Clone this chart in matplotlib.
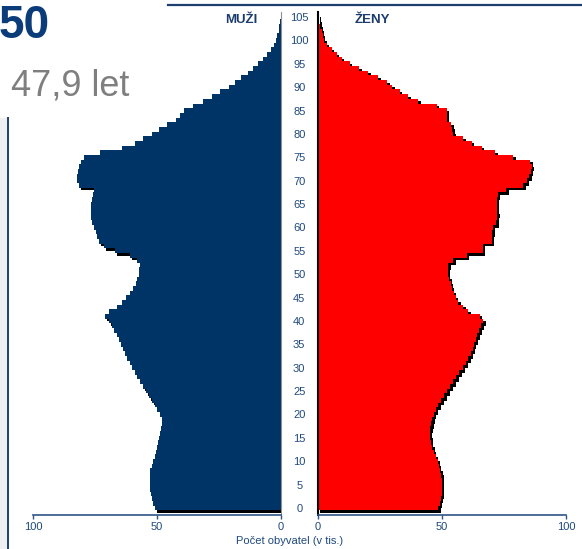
import matplotlib
matplotlib.use("Agg")
import matplotlib.pyplot as plt
import matplotlib.transforms as mtransforms
from matplotlib.patches import Rectangle

plt.rcParams['font.family'] = ['Liberation Sans', 'DejaVu Sans']

ages = list(range(0, 106))
men = [51.0, 51.6, 52.0, 52.4, 52.7, 52.9, 53.0, 53.0, 52.7, 52.2,
       51.5, 51.0, 50.5, 50.0, 49.6, 49.1, 48.7, 48.2, 47.8, 47.9,
       48.7, 49.8, 51.0, 52.2, 53.4, 54.6, 55.8, 56.8, 58.0, 59.0,
       60.0, 61.0, 61.9, 62.8, 63.7, 64.6, 65.4, 66.3, 67.2, 68.2,
       69.5, 71.0, 69.5, 66.0, 64.0, 62.5, 61.0, 59.6, 58.6, 57.9,
       57.4, 57.2, 57.0, 58.0, 61.0, 67.0, 71.5, 73.5, 74.0, 74.6,
       75.3, 76.1, 76.5, 76.8, 76.8, 76.6, 76.2, 75.8, 75.5, 81.5,
       82.3, 82.3, 82.0, 81.5, 80.7, 79.5, 72.8, 64.0, 58.7, 55.5,
       52.0, 49.0, 46.0, 42.5, 40.6, 39.3, 35.5, 31.5, 28.0, 24.5,
       21.0, 18.5, 16.0, 13.5, 11.2, 9.2, 7.2, 5.5, 4.2, 3.0,
       2.2, 1.5, 1.0, 0.7, 0.4, 0.2]
women = [48.5, 49.0, 49.5, 49.9, 50.0, 50.0, 49.9, 49.6, 49.2, 48.7,
         48.2, 47.5, 46.7, 46.0, 45.5, 45.2, 45.1, 45.2, 45.6, 46.1,
         46.7, 47.5, 48.5, 49.7, 51.0, 52.2, 53.4, 54.6, 55.8, 57.0,
         58.3, 59.6, 60.6, 61.5, 62.3, 62.9, 63.6, 64.3, 65.0, 65.8,
         66.7, 65.3, 60.6, 58.5, 56.6, 55.5, 54.8, 54.0, 53.5, 53.0,
         52.4, 52.4, 52.6, 54.6, 60.0, 66.4, 66.5, 70.0, 70.0, 70.2,
         70.5, 71.8, 72.0, 72.3, 72.0, 72.0, 72.0, 72.5, 76.0, 82.8,
         84.1, 85.2, 85.8, 86.2, 85.5, 78.8, 71.4, 66.0, 62.0, 58.6,
         54.6, 54.2, 53.8, 52.0, 51.9, 51.9, 47.8, 40.5, 36.4, 33.0,
         30.0, 28.0, 24.3, 20.3, 16.7, 12.9, 9.5, 7.5, 5.5, 3.5,
         2.6, 2.0, 1.5, 1.0, 0.6, 0.2]
age_ticks = list(range(0, 106, 5))
x_ticks = [0, 50, 100]
title_year = "50"
median_age = "47,9 let"
label_men = "MUŽI"
label_women = "ŽENY"
x_label = "Počet obyvatel (v tis.)"

NAVY = '#003366'
RED = '#ff0000'
AXBLUE = '#2f5588'
TXTBLUE = '#1f497d'

W, H = 582, 549
fig = plt.figure(figsize=(W / 100, H / 100), dpi=100)

def fx(px):
    return px / W

def fy(py):
    return 1 - py / H

ax_top_px, ax_bot_px = 12, 515
age_per_px = 1 / 4.676
ylim = ((508 - ax_bot_px) * age_per_px, (508 - ax_top_px) * age_per_px)

# light grey strip at far left
fig.add_artist(Rectangle((0, 0), fx(7), fy(118), transform=fig.transFigure,
                         facecolor='#f0f0f0', edgecolor='none', zorder=0))

axL = fig.add_axes([fx(33), fy(ax_bot_px), fx(281 - 33), (ax_bot_px - ax_top_px) / H])
axR = fig.add_axes([fx(318), fy(ax_bot_px), fx(566 - 318), (ax_bot_px - ax_top_px) / H])

shadow_off = mtransforms.ScaledTranslation(2.5 / 100, -2.5 / 100, fig.dpi_scale_trans)

for ax, vals, col in ((axL, men, NAVY), (axR, women, RED)):
    ax.barh(ages, vals, height=1.0, color='black', linewidth=0,
            antialiased=False, transform=ax.transData + shadow_off, zorder=1)
    ax.barh(ages, vals, height=1.0, color=col, linewidth=0,
            antialiased=False, zorder=2)
    ax.set_ylim(*ylim)
    ax.set_xticks(x_ticks)
    ax.set_xticklabels([str(t) for t in x_ticks])
    ax.tick_params(axis='x', direction='out', length=3, width=1, color=AXBLUE,
                   labelcolor=TXTBLUE, labelsize=8, pad=2)
    ax.spines['top'].set_visible(False)
    ax.spines['bottom'].set_color(AXBLUE)
    ax.spines['bottom'].set_linewidth(1.2)
    ax.set_facecolor('none')

axL.set_xlim(100, 0)
axR.set_xlim(0, 100)

axL.spines['left'].set_visible(False)
axL.spines['right'].set_color('#909090')
axL.spines['right'].set_linewidth(0.8)
axL.set_yticks([])

axR.spines['right'].set_visible(False)
axR.spines['left'].set_color('black')
axR.spines['left'].set_linewidth(1.5)
axR.set_yticks(age_ticks)
axR.set_yticklabels([str(a) for a in age_ticks])
axR.tick_params(axis='y', length=0, pad=13.5, labelsize=8, labelcolor=TXTBLUE)
for lab in axR.get_yticklabels():
    lab.set_horizontalalignment('center')

# Texts
fig.text(fx(-1), fy(38), title_year, ha='left', va='baseline', fontsize=33,
         fontweight='bold', color='#0b3c7a')
fig.text(fx(11), fy(96), median_age, ha='left', va='baseline', fontsize=26,
         color='#7f7f7f')
fig.text(fx(241), fy(20), label_men, ha='center', va='center', fontsize=9.5,
         fontweight='bold', color='#1b3d6e')
fig.text(fx(372), fy(20), label_women, ha='center', va='center', fontsize=9.5,
         fontweight='bold', color='#1b3d6e')
fig.text(fx(290), fy(541), x_label, ha='center', va='center', fontsize=8,
         color=TXTBLUE)

# Frame decorations
fig.add_artist(plt.Line2D([fx(168), 1.0], [fy(5), fy(5)], color='#1f3f6e', lw=1.6))
fig.add_artist(plt.Line2D([fx(8), fx(8)], [fy(118), 0.0], color='#1f3f6e', lw=1.4))

fig.savefig('out.png', dpi=100)
